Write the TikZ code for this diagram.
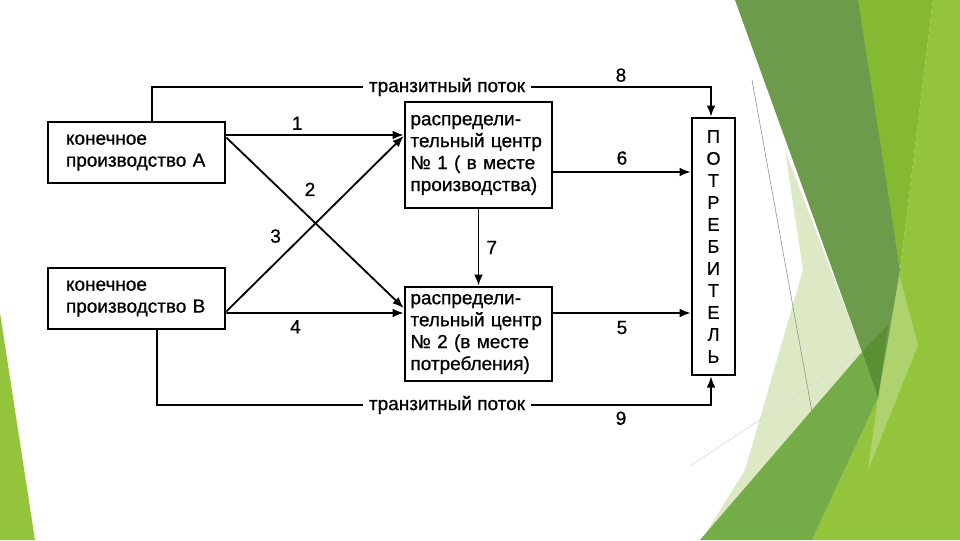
\documentclass[tikz,border=0pt]{standalone}
\usepackage{fontspec}
\setmainfont{Liberation Sans}[FakeBold=0.8]
\usetikzlibrary{arrows.meta,positioning,calc}
\definecolor{leafdk}{HTML}{6B9B4B}
\definecolor{leafdkk}{HTML}{5B8F33}
\definecolor{leafmd}{HTML}{74AC48}
\definecolor{lime}{HTML}{86B932}
\definecolor{limelt}{HTML}{94C43C}
\definecolor{limepale}{HTML}{AED36E}
\definecolor{pale}{HTML}{DCE9C4}
\definecolor{hair}{HTML}{8A8F86}
\tikzset{
  txt/.style={font=\fontsize{13.5}{15.6}\selectfont},
  box/.style={rectangle, draw=black, line width=1.8pt, fill=white, align=left, inner sep=0pt, txt},
  prodbox/.style={box, minimum width=4.425cm, minimum height=1.525cm, text width=3.525cm},
  dcbox/.style={box, minimum width=3.675cm, text width=3.4cm},
  consbox/.style={box, align=center, minimum width=1.075cm, minimum height=6.425cm,
                  font=\fontsize{13}{15.65}\selectfont},
  transit/.style={txt, fill=white, inner xsep=4pt, inner ysep=1pt},
  line/.style={line width=1.3pt, draw=black},
  flow/.style={line, -{Latex[length=2.8mm,width=2.2mm]}},
  lbl/.style={txt, inner sep=1pt},
}
\begin{document}
\begin{tikzpicture}[x=0.025cm, y=-0.025cm]
  \useasboundingbox (0,0) rectangle (960,540);
  \fill[white] (0,0) rectangle (960,540);

  % green facets of the slide
  \fill[limelt] (933,0) -- (960,0) -- (960,540) -- (812,540) -- (878,398) -- (900,270) -- cycle;
  \fill[lime] (856,0) -- (933,0) -- (900,270) -- cycle;
  \fill[limepale] (898,270) -- (918,345) -- (868,470) -- (878,398) -- cycle;
  \fill[pale] (785,150) -- (862,352) -- (706,533) -- (745,470) -- (803,270) -- cycle;
  \fill[leafdk] (735,0) -- (858,0) -- (900,270) -- (878,398) -- (862,352) -- cycle;
  \fill[leafdkk] (862,352) -- (888,325) -- (878,398) -- cycle;
  \fill[leafmd] (862,352) -- (878,398) -- (812,540) -- (700,540) -- cycle;
  \draw[hair, line width=0.4pt] (752,80) -- (812,412);
  \draw[black!15, line width=0.4pt] (690,466) -- (862,352);
  \fill[limelt] (0,313) -- (35,540) -- (0,540) -- cycle;

  % boxes
  \node[prodbox] (prodA) at (136.5,152.5) {конечное\\производство А};
  \node[prodbox] (prodB) at (136.5,298.5) {конечное\\производство В};
  \node[dcbox, minimum height=2.65cm] (dc1) at (478.5,155)
    {распредели-\\тельный центр\\№ 1 ( в месте\\производства)};
  \node[dcbox, minimum height=2.35cm] (dc2) at (478.5,334)
    {распредели-\\тельный центр\\№ 2 (в месте\\потребления)};
  \node[consbox] (cons) at (713.5,246.5) {П\\О\\Т\\Р\\Е\\Б\\И\\Т\\Е\\Л\\Ь};
  \node[transit] (transT) at (447,87) {транзитный поток};
  \node[transit] (transB) at (447,405) {транзитный поток};

  % flows
  \draw[flow] ($(prodA.east)+(0,-17.5)$) -- node[lbl,pos=0.4,above=2pt]{1} ($(dc1.west)+(0,-20)$);
  \draw[flow] ($(prodA.east)+(0,-15)$) -- node[lbl,pos=0.472,above=14pt]{2} ($(dc2.west)+(0,-26)$);
  \draw[flow] ($(prodB.east)+(0,13)$) -- node[lbl,pos=0.278,above=12.5pt]{3} ($(dc1.west)+(0,-19)$);
  \draw[flow] ($(prodB.east)+(0,14.5)$) -- node[lbl,pos=0.39,below=3.5pt]{4} ($(dc2.west)+(0,-21)$);
  \draw[flow] ($(dc1.east)+(0,17)$) coordinate (o6) -- node[lbl,above=3.5pt]{6} (o6 -| cons.west);
  \draw[flow] ($(dc2.east)+(0,-21)$) coordinate (o5) -- node[lbl,below=4pt]{5} (o5 -| cons.west);
  \draw[flow] (dc1.south) -- node[lbl,right=4pt]{7} (dc2.north);
  \draw[line] ($(prodA.north)+(15.5,0)$) |- (transT);
  \draw[flow] (transT) -| node[lbl,pos=0.25,above=2pt]{8} ($(cons.north)+(-2.5,0)$);
  \draw[line] ($(prodB.south)+(20.5,0)$) |- (transB);
  \draw[flow] (transB) -| node[lbl,pos=0.25,below=3pt]{9} ($(cons.south)+(-2.5,0)$);
\end{tikzpicture}
\end{document}
